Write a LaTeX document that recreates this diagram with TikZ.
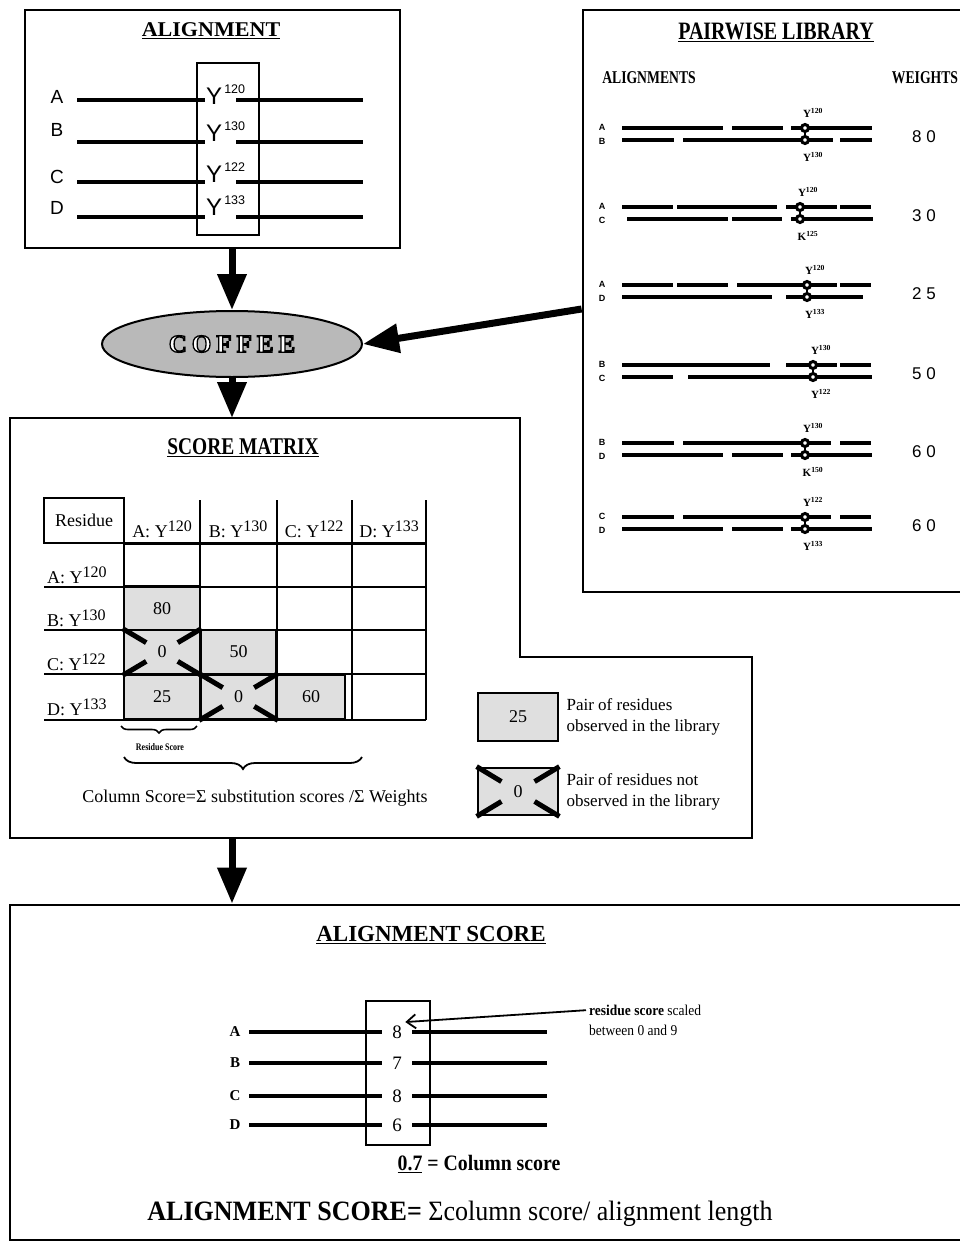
\documentclass[tikz,border=0pt]{standalone}
\usepackage{fontspec}
\setmainfont{Liberation Serif}
\newfontfamily\arialfont{Liberation Sans}
\newfontfamily\coffeefont[LetterSpace=20]{Liberation Serif}
\usetikzlibrary{arrows.meta,shapes.geometric,calc,decorations.pathreplacing}

\newcommand{\rnum}[2]{#1\raisebox{0.3em}{\fontsize{16}{16}\selectfont #2}}
\newcommand{\hollowtext}[1]{\special{pdf:literal direct 0 G 1.3 w 2 Tr}#1\special{pdf:literal direct 0 Tr}}

\begin{document}
\begin{tikzpicture}[x=1pt,y=-1pt,
  panel/.style={draw,line width=2.8pt,inner sep=0pt},
  boxtitle/.style={font=\fontsize{#1}{#1}\selectfont\bfseries},
  bigarrow/.style={line width=7pt,-{Triangle[width=28pt,length=36pt]}},
  seqline/.style={line width=3.8pt},
  libline/.style={line width=3.4pt},
  ring/.style={circle,draw,line width=3pt,fill=white,minimum size=7pt,inner sep=0pt},
  gridline/.style={line width=1.1pt},
  paircell/.style={draw,line width=2.8pt,fill=gray!25,minimum width=76pt,minimum height=44pt,inner sep=0pt,font=\fontsize{18}{18}\selectfont},
  crossbar/.style={line width=5pt}]
\useasboundingbox (0,0) rectangle (960,1244);
\clip (0,0) rectangle (960,1244);
\fill[white] (0,0) rectangle (960,1244);

% alignment
\node[panel,minimum width=375pt,minimum height=238pt] (align_box) at (212.5,129) {};
\node[boxtitle=21,xscale=1.05] (align_title) at (211,31) {\underline{ALIGNMENT}};
\draw[line width=1.4pt] (197,63) rectangle (259,235);
\foreach \s/\ly/\sy/\yb/\num in {A/97/100/105/120,B/130/142/142/130,C/177/182/182/122,D/208/217/215/133}{
  \node[font=\arialfont\fontsize{19}{19}\selectfont] (seq\s) at (57,\ly) {\s};
  \draw[seqline] (77,\sy) -- (205,\sy);
  \draw[seqline] (236,\sy) -- (363,\sy);
  \node[anchor=base west,inner sep=0pt,font=\arialfont\fontsize{24}{24}\selectfont] (res\s) at (206,\yb) {Y\raisebox{11pt}{\fontsize{12.5}{12.5}\selectfont\,\num}};
}

% pairwise library
\node[panel,minimum width=392pt,minimum height=582pt] (library) at (779,301) {};
\node[boxtitle=25,xscale=0.8] (lib_title) at (776,32) {\underline{PAIRWISE LIBRARY}};
\node[boxtitle=18,xscale=0.76] (lib_aln) at (649,78) {ALIGNMENTS};
\node[boxtitle=18,xscale=0.76] (lib_wt) at (925,78) {WEIGHTS};
\foreach \ya/\yb/\sa/\sb/\cx/\ra/\rb/\wt/\segA/\segB in {
  128/140/A/B/805/{Y\textsuperscript{120}}/{Y\textsuperscript{130}}/{8 0}/{622/723,732/783,791/872}/{622/674,683/833,840/872},
  207/219/A/C/800/{Y\textsuperscript{120}}/{K\textsuperscript{125}}/{3 0}/{622/673,677/777,786/837,840/871}/{627/728,732/782,791/873},
  285/297/A/D/807/{Y\textsuperscript{120}}/{Y\textsuperscript{133}}/{2 5}/{622/673,677/728,737/837,840/871}/{622/772,786/863},
  365/377/B/C/813/{Y\textsuperscript{130}}/{Y\textsuperscript{122}}/{5 0}/{622/770,786/837,840/871}/{622/673,688/872},
  443/455/B/D/805/{Y\textsuperscript{130}}/{K\textsuperscript{150}}/{6 0}/{622/674,683/831,840/871}/{622/723,732/783,791/872},
  517/529/C/D/805/{Y\textsuperscript{122}}/{Y\textsuperscript{133}}/{6 0}/{622/674,683/831,840/871}/{622/723,732/783,791/872}}{
  \node[font=\arialfont\bfseries\fontsize{9}{9}\selectfont] at (602,\ya-1) {\sa};
  \node[font=\arialfont\bfseries\fontsize{9}{9}\selectfont] at (602,\yb+1) {\sb};
  \foreach \p/\q in \segA {\draw[libline] (\p,\ya) -- (\q,\ya);}
  \foreach \p/\q in \segB {\draw[libline] (\p,\yb) -- (\q,\yb);}
  \draw[line width=2.6pt] (\cx,\ya) -- (\cx,\yb);
  \node[ring] at (\cx,\ya) {};
  \node[ring] at (\cx,\yb) {};
  \node[font=\bfseries\fontsize{11}{11}\selectfont] at (\cx+8,\ya-15) {\ra};
  \node[font=\bfseries\fontsize{11}{11}\selectfont] at (\cx+8,\yb+17) {\rb};
  \node[font=\arialfont\fontsize{17}{17}\selectfont] at (924,{(\ya+\yb)/2+3}) {\wt};
}

% coffee
\node[ellipse,draw,line width=2pt,fill=gray!55,minimum width=260pt,minimum height=66pt,inner sep=0pt] (coffee) at (232,344)
  {\textcolor{white}{\coffeefont\bfseries\fontsize{25}{25}\selectfont\hollowtext{COFFEE}}};

% score matrix
\draw[panel] (10,418) -- (520,418) -- (520,657) -- (752,657) -- (752,838) -- (10,838) -- cycle;
\coordinate (score_top) at (232,418);
\coordinate (score_bottom) at (232,838);
\node[boxtitle=24,xscale=0.81] (score_title) at (243,448) {\underline{SCORE MATRIX}};
\node[draw,line width=2.8pt,minimum width=80pt,minimum height=45pt,inner sep=0pt,font=\fontsize{18}{18}\selectfont] (res_head) at (84,520.5) {Residue};
\foreach \ry in {587,630,674,720} \draw[gridline] (44,\ry) -- (426,\ry);
\foreach \cx in {200,277,352} {
  \draw[line width=2pt] (\cx,500) -- (\cx,543);
  \draw[gridline] (\cx,543) -- (\cx,720);
}
\draw[gridline] (124,543) -- (124,720);
\draw[line width=2pt] (426,500) -- (426,720);
\draw[line width=3pt] (124,543) -- (426,543);
\foreach \c/\cx/\num in {A/162/120,B/238/130,C/314/122,D/389/133}
  \node[anchor=base,inner sep=0pt,font=\fontsize{18}{18}\selectfont] (col\c) at (\cx,537) {\c: \rnum{Y}{\num}};
\foreach \c/\ry/\num in {A/583/120,B/626/130,C/670/122,D/715/133}
  \node[anchor=base west,inner sep=0pt,font=\fontsize{18}{18}\selectfont] (row\c) at (47,\ry) {\c: \rnum{Y}{\num}};
\node[paircell] (cBA) at (162,608.5) {80};
\node[paircell] (cCA) at (162,652) {0};
\node[paircell] (cCB) at (238.5,652) {50};
\node[paircell] (cDA) at (162,697) {25};
\node[paircell] (cDB) at (238.5,697) {0};
\node[paircell,minimum width=68pt] (cDC) at (311,697) {60};
\draw[decorate,decoration={brace,mirror,amplitude=7pt},line width=1.6pt] (121,726) -- (197,726);
\node[font=\fontsize{10}{10}\selectfont\bfseries,xscale=0.8] (res_score) at (160,747) {Residue Score};
\draw[decorate,decoration={brace,mirror,amplitude=12pt},line width=1.8pt] (124,757) -- (362,757);
\node[font=\fontsize{18}{18}\selectfont] (col_score) at (255,798) {Column Score=Σ substitution scores /Σ Weights};

% legend
\node[paircell,minimum width=80pt,minimum height=48pt] (leg_obs) at (518,717) {25};
\node[paircell,minimum width=80pt,minimum height=47pt] (leg_miss) at (518,791.5) {0};
\node[anchor=west,align=left,inner sep=0pt,font=\fontsize{17}{21}\selectfont] (leg_obs_txt) at ([xshift=7pt]leg_obs.east) {Pair of residues\\observed in the library};
\node[anchor=west,align=left,inner sep=0pt,font=\fontsize{17}{21}\selectfont] (leg_miss_txt) at ([xshift=7pt]leg_miss.east) {Pair of residues not\\observed in the library};
\foreach \n in {cCA,cDB,leg_miss} {
  \draw[crossbar] (\n.north west) -- ($(\n.north west)!0.3!(\n.south east)$);
  \draw[crossbar] (\n.north east) -- ($(\n.north east)!0.3!(\n.south west)$);
  \draw[crossbar] (\n.south west) -- ($(\n.south west)!0.3!(\n.north east)$);
  \draw[crossbar] (\n.south east) -- ($(\n.south east)!0.3!(\n.north west)$);
}

% alignment score
\node[panel,minimum width=965pt,minimum height=335pt] (ascore) at (492.5,1072.5) {};
\node[boxtitle=23] (ascore_title) at (431,935) {\underline{ALIGNMENT SCORE}};
\draw[line width=1.4pt] (366,1001) rectangle (430,1145);
\foreach \s/\sy/\d in {A/1032/8,B/1063/7,C/1096/8,D/1125/6}{
  \node[font=\fontsize{15}{15}\selectfont\bfseries] (sc\s) at (235,\sy) {\s};
  \draw[seqline] (249,\sy) -- (382,\sy);
  \draw[seqline] (412,\sy) -- (547,\sy);
  \node[font=\fontsize{19}{19}\selectfont] (dig\s) at (397,\sy) {\d};
}
\node[anchor=west,align=left,font=\fontsize{15}{20}\selectfont,xscale=0.9] (note) at (586,1020) {\textbf{residue score} scaled\\between 0 and 9};
\draw[line width=1.8pt,-{Straight Barb[length=9pt,width=14pt]}] ([yshift=-9pt]note.north west) -- (digA.north east);
\node[font=\fontsize{22}{22}\selectfont\bfseries,xscale=0.9] (colscore) at (479,1164) {\underline{0.7} = Column score};
\node[font=\fontsize{28}{28}\selectfont,xscale=0.93] (aln_formula) at (460,1214) {\textbf{ALIGNMENT SCORE=} Σcolumn score/ alignment length};

% arrows
\draw[bigarrow] (align_box.south -| coffee.north) -- (coffee.north);
\draw[bigarrow] (coffee.south) -- (score_top);
\draw[bigarrow] ([yshift=-8pt]library.west) -- (coffee.east);
\draw[bigarrow] (score_bottom) -- (ascore.north -| score_bottom);
\end{tikzpicture}
\end{document}
